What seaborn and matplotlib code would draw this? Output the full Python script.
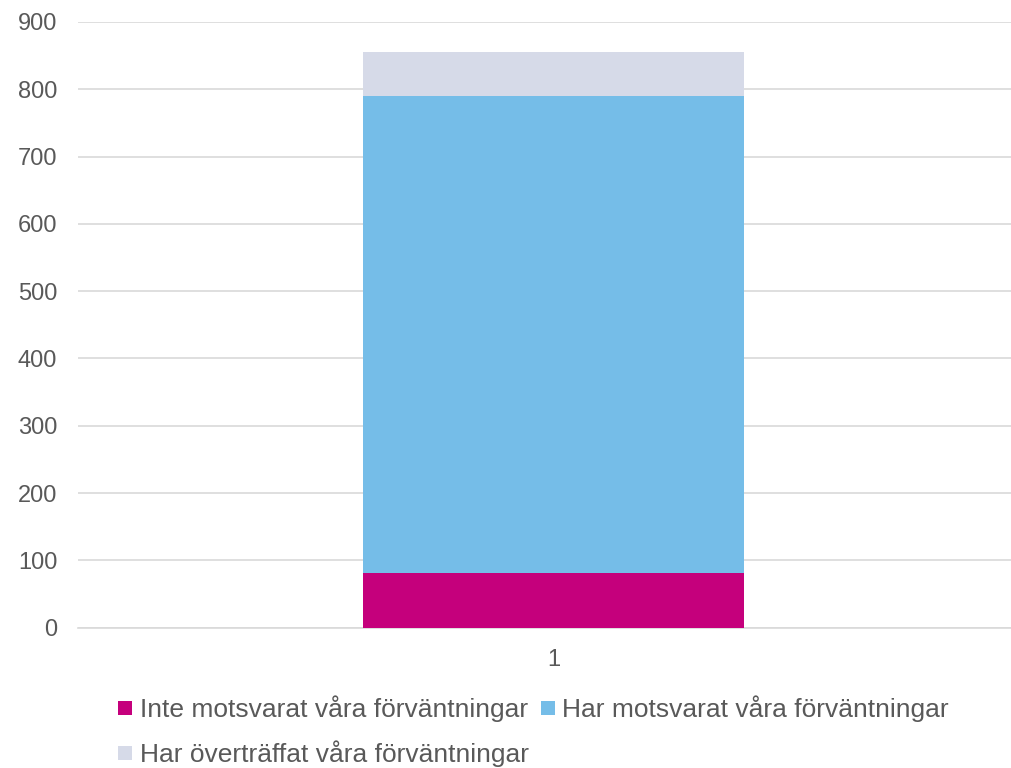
import numpy as np
import pandas as pd
import matplotlib
matplotlib.use('Agg')
import matplotlib.pyplot as plt
import seaborn as sns
from matplotlib.lines import Line2D

# Data
categories = ['1']
series_names = ['Inte motsvarat våra förväntningar',
                'Har motsvarat våra förväntningar',
                'Har överträffat våra förväntningar']
inte_motsvarat = [81]
har_motsvarat = [709]
har_overtraffat = [65]
colors = ['#C5007C', '#75BDE8', '#D6DAE8']

sns.set_theme(style='white')
plt.rcParams['font.family'] = ['Liberation Sans', 'DejaVu Sans']

text_color = '#595959'
grid_color = '#D9D9D9'

fig = plt.figure(figsize=(10.12, 7.68), dpi=100)
ax = fig.add_axes([0.0771, 0.1827, 0.9397, 0.7887])

# Stacked bar: draw cumulative totals from the top down
values = np.array([inte_motsvarat, har_motsvarat, har_overtraffat], dtype=float)
cumulative = values.cumsum(axis=0)
for i in range(len(series_names) - 1, -1, -1):
    df = pd.DataFrame({'cat': categories, 'val': cumulative[i]})
    sns.barplot(data=df, x='cat', y='val', color=colors[i], saturation=1,
                width=0.4, ax=ax, linewidth=0, zorder=3)

ax.set_ylim(0, 900)
ax.set_yticks(range(0, 901, 100))
ax.set_xlabel('')
ax.set_ylabel('')
ax.yaxis.grid(True, color=grid_color, linewidth=1.2, zorder=0)
ax.set_axisbelow(True)
for side in ['left', 'right', 'top']:
    ax.spines[side].set_visible(False)
ax.spines['bottom'].set_color(grid_color)
ax.spines['bottom'].set_linewidth(1.2)
ax.tick_params(axis='y', length=0, pad=15, labelsize=17, labelcolor=text_color)
ax.tick_params(axis='x', length=0, pad=15, labelsize=17, labelcolor=text_color)

# Legend (row-wise order in two columns)
handles = [Line2D([], [], marker='s', linestyle='none', markersize=10,
                  markerfacecolor=c, markeredgewidth=0) for c in colors]
order = [0, 2, 1]
fig.legend([handles[i] for i in order], [series_names[i] for i in order],
           loc='upper left', bbox_to_anchor=(0.1166, 0.0944),
           ncol=2, frameon=False, fontsize=19, labelcolor=text_color,
           handlelength=0.55, handletextpad=0.27, columnspacing=0.45,
           labelspacing=0.7, borderpad=0, borderaxespad=0)

fig.savefig('out.png', dpi=100)
